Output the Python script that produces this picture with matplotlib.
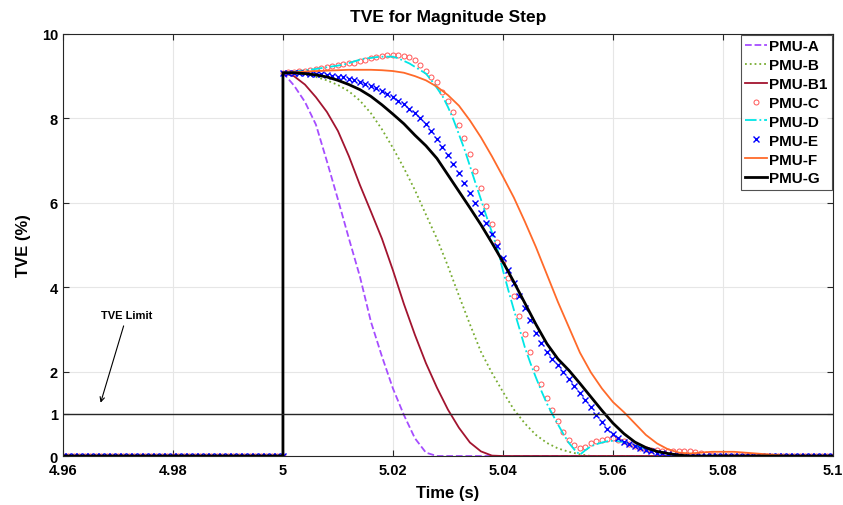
import numpy as np
import matplotlib.pyplot as plt

plt.rcParams['font.family'] = ['Liberation Sans', 'DejaVu Sans']
plt.rcParams['font.weight'] = 'bold'

# before the step every PMU reports zero TVE
t_pre = np.round(np.arange(4960, 5001) / 1000.0, 3)
zero_pre = [0.0] * len(t_pre)

# time after the step (ms)
ms_1 = np.arange(0, 101, 1)
ms_2 = np.arange(0, 101, 2)

# 2 ms samples
pmu_a = [9.08, 8.78, 8.39, 7.85, 6.98, 6.08, 5.15, 4.25, 3.18, 2.36,
         1.60, 0.97, 0.42, 0.08, 0.0, 0.0, 0.0, 0.0, 0.0, 0.0,
         0.0, 0.0, 0.0, 0.0, 0.0, 0.0, 0.0, 0.0, 0.0, 0.0,
         0.0, 0.0, 0.0, 0.0, 0.0, 0.0, 0.0, 0.0, 0.0, 0.0,
         0.0, 0.0, 0.0, 0.0, 0.0, 0.0, 0.0, 0.0, 0.0, 0.0, 0.0]
pmu_b = [9.08, 9.07, 9.04, 8.98, 8.90, 8.79, 8.64, 8.42, 8.12, 7.74,
         7.30, 6.82, 6.30, 5.72, 5.15, 4.50, 3.80, 3.12, 2.47, 1.97,
         1.52, 1.10, 0.77, 0.50, 0.31, 0.18, 0.10, 0.04, 0.0, 0.0,
         0.0, 0.0, 0.0, 0.0, 0.0, 0.0, 0.0, 0.0, 0.0, 0.0,
         0.0, 0.0, 0.0, 0.0, 0.0, 0.0, 0.0, 0.0, 0.0, 0.0, 0.0]
pmu_b1 = [9.08, 9.00, 8.80, 8.50, 8.15, 7.70, 7.10, 6.42, 5.79, 5.15,
          4.40, 3.60, 2.87, 2.20, 1.62, 1.10, 0.67, 0.32, 0.11, 0.01,
          0.0, 0.0, 0.0, 0.0, 0.0, 0.0, 0.0, 0.0, 0.0, 0.0,
          0.0, 0.0, 0.0, 0.0, 0.0, 0.0, 0.0, 0.0, 0.0, 0.0,
          0.0, 0.0, 0.0, 0.0, 0.0, 0.0, 0.0, 0.0, 0.0, 0.0, 0.0]
pmu_f = [9.08, 9.09, 9.11, 9.12, 9.13, 9.14, 9.15, 9.15, 9.15, 9.14,
         9.12, 9.08, 9.00, 8.90, 8.75, 8.55, 8.30, 7.95, 7.55, 7.10,
         6.62, 6.12, 5.55, 4.95, 4.30, 3.65, 3.05, 2.45, 1.98, 1.60,
         1.28, 1.04, 0.77, 0.50, 0.30, 0.16, 0.08, 0.06, 0.08, 0.10,
         0.10, 0.10, 0.08, 0.06, 0.04, 0.02, 0.0, 0.0, 0.0, 0.0, 0.0]
pmu_g = [9.08, 9.08, 9.06, 9.03, 8.98, 8.90, 8.80, 8.68, 8.52, 8.32,
         8.10, 7.87, 7.60, 7.35, 7.05, 6.66, 6.27, 5.88, 5.48, 5.05,
         4.60, 4.12, 3.62, 3.12, 2.66, 2.30, 2.03, 1.72, 1.40, 1.08,
         0.78, 0.53, 0.33, 0.20, 0.11, 0.06, 0.02, 0.0, 0.0, 0.0,
         0.0, 0.0, 0.0, 0.0, 0.0, 0.0, 0.0, 0.0, 0.0, 0.0, 0.0]

# 1 ms samples
pmu_c = [9.08, 9.09, 9.10, 9.11, 9.13, 9.15, 9.17, 9.20, 9.22, 9.24,
         9.26, 9.28, 9.30, 9.32, 9.35, 9.39, 9.42, 9.46, 9.48, 9.50,
         9.50, 9.50, 9.48, 9.45, 9.38, 9.26, 9.13, 8.99, 8.85, 8.63,
         8.42, 8.14, 7.85, 7.53, 7.16, 6.76, 6.34, 5.92, 5.50, 5.06,
         4.62, 4.22, 3.78, 3.32, 2.90, 2.47, 2.08, 1.70, 1.38, 1.08,
         0.83, 0.56, 0.38, 0.25, 0.20, 0.22, 0.30, 0.35, 0.38, 0.40,
         0.42, 0.39, 0.35, 0.29, 0.23, 0.19, 0.17, 0.15, 0.14, 0.13,
         0.13, 0.13, 0.12, 0.12, 0.11, 0.10, 0.08, 0.05, 0.03, 0.01,
         0.0, 0.0, 0.0, 0.0, 0.0, 0.0, 0.0, 0.0, 0.0, 0.0,
         0.0, 0.0, 0.0, 0.0, 0.0, 0.0, 0.0, 0.0, 0.0, 0.0, 0.0]
pmu_d = [9.08, 9.09, 9.10, 9.12, 9.14, 9.15, 9.17, 9.19, 9.21, 9.23,
         9.25, 9.27, 9.31, 9.35, 9.39, 9.42, 9.43, 9.45, 9.46, 9.46,
         9.46, 9.42, 9.36, 9.30, 9.22, 9.14, 9.06, 8.90, 8.72, 8.53,
         8.27, 7.97, 7.62, 7.27, 6.87, 6.47, 6.08, 5.68, 5.30, 4.90,
         4.40, 3.92, 3.46, 3.02, 2.57, 2.20, 1.86, 1.54, 1.24, 0.99,
         0.75, 0.52, 0.31, 0.15, 0.03, 0.14, 0.23, 0.28, 0.32, 0.35,
         0.36, 0.35, 0.33, 0.29, 0.25, 0.21, 0.17, 0.14, 0.10, 0.07,
         0.05, 0.03, 0.02, 0.01, 0.0, 0.0, 0.0, 0.0, 0.0, 0.0,
         0.0, 0.0, 0.0, 0.0, 0.0, 0.0, 0.0, 0.0, 0.0, 0.0,
         0.0, 0.0, 0.0, 0.0, 0.0, 0.0, 0.0, 0.0, 0.0, 0.0, 0.0]
pmu_e = [9.08, 9.08, 9.08, 9.07, 9.07, 9.06, 9.05, 9.04, 9.03, 9.01,
         8.99, 8.97, 8.94, 8.91, 8.87, 8.82, 8.77, 8.71, 8.65, 8.58,
         8.50, 8.42, 8.33, 8.23, 8.12, 8.00, 7.86, 7.70, 7.52, 7.33,
         7.13, 6.92, 6.70, 6.47, 6.23, 5.99, 5.75, 5.52, 5.25, 4.97,
         4.69, 4.40, 4.10, 3.80, 3.50, 3.22, 2.92, 2.68, 2.46, 2.30,
         2.15, 2.00, 1.83, 1.66, 1.50, 1.33, 1.15, 0.98, 0.80, 0.65,
         0.52, 0.42, 0.34, 0.28, 0.23, 0.18, 0.15, 0.11, 0.08, 0.06,
         0.04, 0.03, 0.02, 0.01, 0.0, 0.0, 0.0, 0.0, 0.0, 0.0,
         0.0, 0.0, 0.0, 0.0, 0.0, 0.0, 0.0, 0.0, 0.0, 0.0,
         0.0, 0.0, 0.0, 0.0, 0.0, 0.0, 0.0, 0.0, 0.0, 0.0, 0.0]

x_ticks = [4.96, 4.98, 5.0, 5.02, 5.04, 5.06, 5.08, 5.1]
x_tick_labels = ['4.96', '4.98', '5', '5.02', '5.04', '5.06', '5.08', '5.1']
y_ticks = [0, 1, 2, 4, 6, 8, 10]
tve_limit = 1.0


def with_step(ms, vals):
    t = np.concatenate([t_pre, 5.0 + ms / 1000.0])
    y = np.concatenate([zero_pre, vals])
    return t, y


fig = plt.figure(figsize=(8.43, 5.06), dpi=100)
ax = fig.add_axes([0.0747, 0.0968, 0.9133, 0.8342])

ax.plot(*with_step(ms_2, pmu_a), '--', color='#a64dff', lw=1.3, label='PMU-A')
ax.plot(*with_step(ms_2, pmu_b), ':', color='#77ac30', lw=1.3, label='PMU-B')
ax.plot(*with_step(ms_2, pmu_b1), '-', color='#a2142f', lw=1.3, label='PMU-B1')
ax.plot(*with_step(ms_1, pmu_c), 'o', color='#ff5555', mfc='none', ms=3.6, mew=0.7, label='PMU-C')
ax.plot(*with_step(ms_1, pmu_d), '-.', color='#00e6e6', lw=1.3, label='PMU-D')
ax.plot(*with_step(ms_1, pmu_e), 'x', color='#0000ff', ms=4, mew=1.0, label='PMU-E')
ax.plot(*with_step(ms_2, pmu_f), '-', color='#ff6a2a', lw=1.3, label='PMU-F')
ax.plot(*with_step(ms_2, pmu_g), '-', color='black', lw=2.0, label='PMU-G')

ax.axhline(tve_limit, color='#262626', lw=1.0)
ax.annotate('TVE Limit', xy=(4.9667, 1.2), xytext=(4.9716, 3.33),
            fontsize=8, fontweight='bold', ha='center', va='center',
            arrowprops=dict(arrowstyle='->', lw=0.8, color='black'))

ax.set_xlim(4.96, 5.1)
ax.set_ylim(0, 10)
ax.set_xticks(x_ticks)
ax.set_xticklabels(x_tick_labels)
ax.set_yticks(y_ticks)
ax.tick_params(direction='in', top=True, right=True, length=4, labelsize=10.5,
               color='#262626')
ax.tick_params(axis='x', pad=5)
ax.grid(True, color='#e6e6e6', lw=0.8)
ax.set_axisbelow(True)
for sp in ax.spines.values():
    sp.set_color('#262626')
    sp.set_linewidth(0.8)

ax.set_xlabel('Time (s)', fontsize=12, fontweight='bold', labelpad=6)
ax.set_ylabel('TVE (%)', fontsize=12, fontweight='bold', labelpad=8)
ax.set_title('TVE for Magnitude Step', fontsize=12.5, fontweight='bold', pad=9)

leg = ax.legend(loc='upper right', fontsize=11, frameon=True, fancybox=False,
                edgecolor='#262626', borderaxespad=0.05, handlelength=1.45,
                labelspacing=0.32, borderpad=0.3, handletextpad=0.12)
leg.get_frame().set_linewidth(0.8)
for txt in leg.get_texts():
    txt.set_fontweight('bold')

fig.savefig('out.png', dpi=100)
